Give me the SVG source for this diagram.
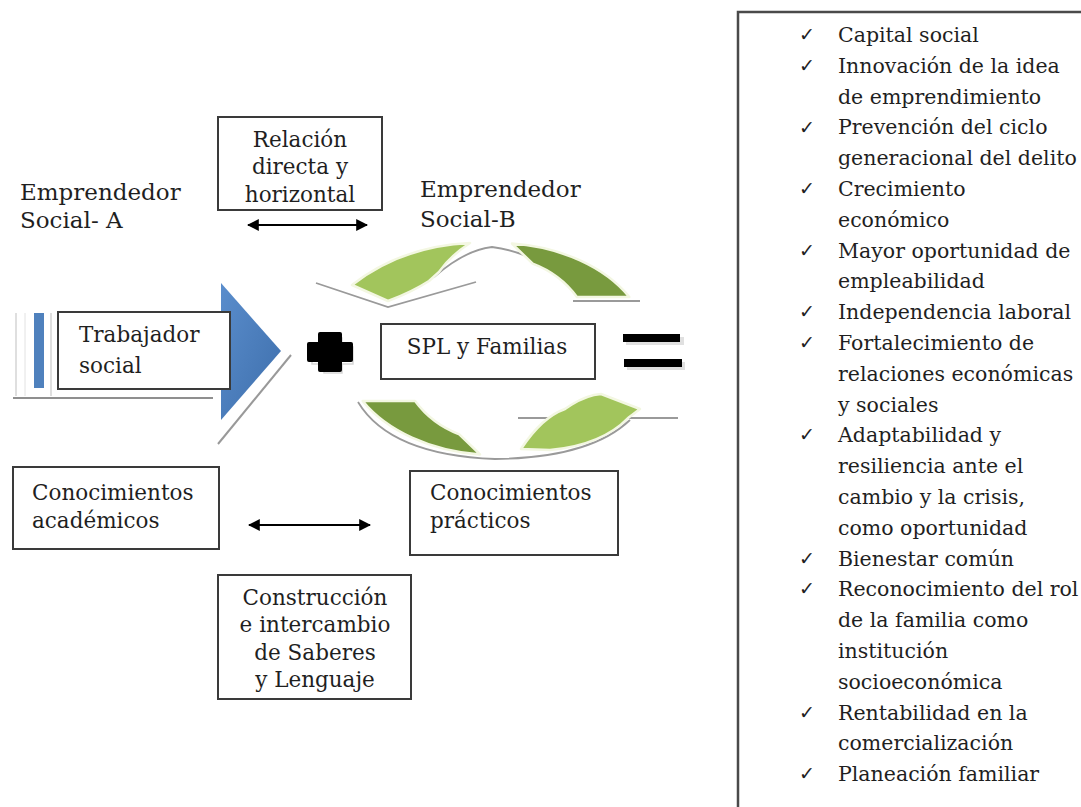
<svg xmlns="http://www.w3.org/2000/svg" width="1081" height="807" viewBox="0 0 1081 807">
<defs>
<style>
text{font-family:"DejaVu Serif","Liberation Serif",serif;fill:#1f1f1f;}
.h{font-size:23px;}
.t{font-size:21.5px;}
.l{font-size:20.5px;}
.ck{font-family:"DejaVu Sans",sans-serif;font-size:19px;fill:#1f1f1f;}
.box{fill:#fff;stroke:#3a3a3a;stroke-width:2;}
.dark{fill:#789a3e;stroke:#f3f7e2;stroke-width:2.5;stroke-linejoin:round;}
.light{fill:#a2c55c;stroke:#f3f7e2;stroke-width:2.5;stroke-linejoin:round;}
.shadow{fill:none;stroke:#9a9a9a;stroke-width:1.8;}
.conn{stroke:#000;stroke-width:2;fill:none;marker-start:url(#ah);marker-end:url(#ah);}
</style>
<marker id="ah" viewBox="0 0 10 10" refX="9" refY="5" markerWidth="6" markerHeight="6" orient="auto-start-reverse" markerUnits="strokeWidth">
<path d="M0,0 L10,5 L0,10 Z" fill="#000"/>
</marker>
<linearGradient id="blue" x1="0" y1="0" x2="1" y2="1">
<stop offset="0" stop-color="#5a8dcc"/>
<stop offset="1" stop-color="#3d6eab"/>
</linearGradient>
</defs>
<rect width="1081" height="807" fill="#fff"/>

<g id="emprendedor-a">
<text class="h" x="20" y="200">Emprendedor</text>
<text class="h" x="20" y="228">Social- A</text>
</g>
<g id="emprendedor-b">
<text class="h" x="420" y="197">Emprendedor</text>
<text class="h" x="420" y="227">Social-B</text>
</g>

<g id="relacion">
<rect class="box" x="218" y="117" width="164" height="93"/>
<text class="t" x="300" y="147" text-anchor="middle">Relación</text>
<text class="t" x="300" y="174" text-anchor="middle">directa y</text>
<text class="t" x="300" y="202" text-anchor="middle">horizontal</text>
</g>

<g id="trabajador-social">
<line x1="16" y1="313" x2="16" y2="396" stroke="#d4d4d4" stroke-width="1.5"/>
<line x1="25" y1="313" x2="25" y2="396" stroke="#e2e2e2" stroke-width="1"/>
<line x1="51" y1="313" x2="51" y2="396" stroke="#d4d4d4" stroke-width="1.5"/>
<rect x="34" y="313" width="10" height="75" fill="#4f81bd"/>
<line x1="13" y1="398" x2="213" y2="398" stroke="#8f8f8f" stroke-width="2"/>
<path d="M221,283 L281,351 L221,420 Z" fill="url(#blue)"/>
<line x1="291" y1="355" x2="218" y2="444" stroke="#999" stroke-width="2"/>
<rect class="box" x="58" y="312" width="172" height="77"/>
<text class="t" x="79" y="342">Trabajador</text>
<text class="t" x="79" y="373">social</text>
</g>

<g id="mas">
<path d="M321,335 h18 v9 h11 v17 h-11 v9 h-18 v-9 h-12 v-17 h12 Z" fill="none" stroke="#d6d6d6" stroke-width="1.5" transform="translate(3,3)"/>
<path d="M320,332 h20 q2,0 2,2 v8 h9 q2,0 2,2 v16 q0,2 -2,2 h-9 v8 q0,2 -2,2 h-20 q-2,0 -2,-2 v-8 h-9 q-2,0 -2,-2 v-16 q0,-2 2,-2 h9 v-8 q0,-2 2,-2 Z" fill="#000"/>
</g>

<g id="ciclo">
<g id="ciclo-superior">
<path class="shadow" d="M316,283 L388,307 L476,282"/>
<path class="shadow" d="M434,277 Q465,250 492,247 Q530,252 560,276"/>
<line x1="573" y1="301" x2="640" y2="301" stroke="#9a9a9a" stroke-width="1.8"/>
<path class="dark" d="M629.3,297 A153,106 0 0 0 512,243.6 L532.7,263.7 A98,92 0 0 1 576.9,297 Z"/>
<path class="light" d="M470,243 Q402,246 352,285 L388,301 Q412,292 429,281 L439,272 Q450,256 470,243 Z"/>
</g>
<g id="ciclo-inferior">
<line x1="518" y1="418" x2="560" y2="418" stroke="#9a9a9a" stroke-width="1.8"/>
<line x1="628" y1="418" x2="678" y2="418" stroke="#9a9a9a" stroke-width="1.8"/>
<path class="shadow" d="M358,402 Q390,455 495,459 Q590,458 630,420"/>
<path class="dark" d="M362.7,401 A153,106 0 0 0 480,454.4 L459.3,434.3 A98,92 0 0 1 415.1,401 Z"/>
<path class="light" d="M521,449 Q542,417 565,409 L571,405 Q587,395 601,394 L640,409 L628,418 Q602,445 550,450 Z"/>
</g>
</g>

<g id="spl-familias">
<rect class="box" x="381" y="324" width="214" height="55"/>
<text class="t" x="487" y="354" text-anchor="middle">SPL y Familias</text>
</g>

<g id="igual">
<rect x="626" y="337" width="58" height="8" fill="#e0e0e0"/>
<rect x="627" y="362" width="58" height="8" fill="#e0e0e0"/>
<rect x="623" y="334" width="57" height="8" fill="#000"/>
<rect x="624" y="359" width="58" height="8" fill="#000"/>
</g>

<g id="conocimientos-academicos">
<rect class="box" x="13" y="467" width="206" height="82"/>
<text class="t" x="32" y="500">Conocimientos</text>
<text class="t" x="32" y="528">académicos</text>
</g>

<g id="conocimientos-practicos">
<rect class="box" x="410" y="471" width="208" height="84"/>
<text class="t" x="430" y="500">Conocimientos</text>
<text class="t" x="430" y="528">prácticos</text>
</g>

<g id="construccion">
<rect class="box" x="218" y="575" width="193" height="124"/>
<text class="t" x="315" y="605" text-anchor="middle">Construcción</text>
<text class="t" x="315" y="632" text-anchor="middle">e intercambio</text>
<text class="t" x="315" y="660" text-anchor="middle">de Saberes</text>
<text class="t" x="315" y="687" text-anchor="middle">y Lenguaje</text>
</g>

<g id="connectors">
<line class="conn" x1="248" y1="225" x2="367" y2="225"/>
<line class="conn" x1="249" y1="525" x2="370" y2="525"/>
</g>

<g id="resultados">
<rect x="738" y="12" width="360" height="820" fill="#fff" stroke="#4a4a4a" stroke-width="2.5"/>
<text class="ck" x="799" y="41">✓</text>
<text class="ck" x="799" y="72">✓</text>
<text class="ck" x="799" y="134">✓</text>
<text class="ck" x="799" y="195">✓</text>
<text class="ck" x="799" y="257">✓</text>
<text class="ck" x="799" y="318">✓</text>
<text class="ck" x="799" y="349">✓</text>
<text class="ck" x="799" y="441">✓</text>
<text class="ck" x="799" y="565">✓</text>
<text class="ck" x="799" y="595">✓</text>
<text class="ck" x="799" y="719">✓</text>
<text class="ck" x="799" y="780">✓</text>
<text class="l" x="838" y="42">Capital social</text>
<text class="l" x="838" y="72.8">Innovación de la idea</text>
<text class="l" x="838" y="103.6">de emprendimiento</text>
<text class="l" x="838" y="134.4">Prevención del ciclo</text>
<text class="l" x="838" y="165.2">generacional del delito</text>
<text class="l" x="838" y="196">Crecimiento</text>
<text class="l" x="838" y="226.8">económico</text>
<text class="l" x="838" y="257.6">Mayor oportunidad de</text>
<text class="l" x="838" y="288.4">empleabilidad</text>
<text class="l" x="838" y="319.2">Independencia laboral</text>
<text class="l" x="838" y="350">Fortalecimiento de</text>
<text class="l" x="838" y="380.8">relaciones económicas</text>
<text class="l" x="838" y="411.6">y sociales</text>
<text class="l" x="838" y="442.4">Adaptabilidad  y</text>
<text class="l" x="838" y="473.2">resiliencia ante el</text>
<text class="l" x="838" y="504">cambio y la crisis,</text>
<text class="l" x="838" y="534.8">como oportunidad</text>
<text class="l" x="838" y="565.6">Bienestar común</text>
<text class="l" x="838" y="596.4">Reconocimiento del rol</text>
<text class="l" x="838" y="627.2">de la familia como</text>
<text class="l" x="838" y="658">institución</text>
<text class="l" x="838" y="688.8">socioeconómica</text>
<text class="l" x="838" y="719.6">Rentabilidad en la</text>
<text class="l" x="838" y="750.4">comercialización</text>
<text class="l" x="838" y="781.2">Planeación familiar</text>
</g>
</svg>
